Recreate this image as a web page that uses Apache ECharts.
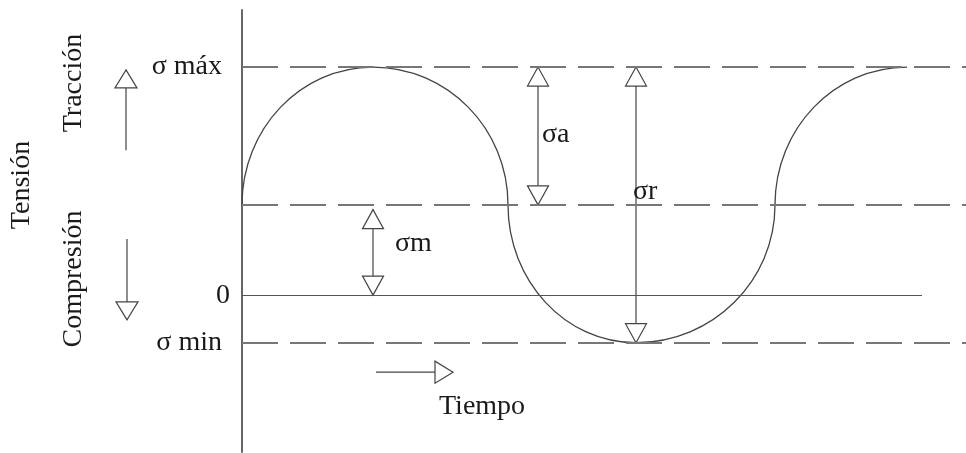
<!DOCTYPE html>
<html>
<head>
<meta charset="utf-8">
<style>
  html, body { margin: 0; background: #fff; }
  #chart { width: 966px; height: 453px; }
</style>
<script src="https://cdn.jsdelivr.net/npm/echarts@6/dist/echarts.min.js"></script>
</head>
<body>
<div id="chart"></div>
<script>
// stress levels (arbitrary units, 0 = no load)
const SIGMA_MAX = 4.8;
const SIGMA_M = 1.9;
const SIGMA_MIN = -1.0;
const ZERO_END = 6.8;

// curve key points [time, stress]: mean crossings and peaks, joined by quarter arcs
const curve = [
    [0, SIGMA_M],
    [1.31, SIGMA_MAX],
    [2.66, SIGMA_M],
    [3.94, SIGMA_MIN],
    [5.33, SIGMA_M],
    [6.65, SIGMA_MAX],
];

// double arrows: [time, from, to, label y]
const dims = [
    [1.31, 1.8, 0, 1.08],
    [2.96, SIGMA_MAX, SIGMA_M, 3.37],
    [3.94, SIGMA_MAX, SIGMA_MIN, 2.17],
];
const dim_names = ["σm", "σa", "σr"];
const dim_dx = [22, 4, -3];

// single direction arrows: [x1, y1, x2, y2]
const directions = [
    [-1.16, 3.05, -1.16, 4.74],
    [-1.15, 1.18, -1.15, -0.52],
    [1.34, -1.62, 2.11, -1.62],
];

const FAMILY = "'Liberation Serif', 'Times New Roman', serif";
const FONT = "28px " + FAMILY;
const INK = "#444";
const TEXT = "#1a1a1a";
const K = 0.5523; // quarter-ellipse bezier handle

function head(tip, from, w, h) {
    const dx = tip[0] - from[0], dy = tip[1] - from[1];
    const len = Math.hypot(dx, dy);
    const ux = dx / len, uy = dy / len;
    const bx = tip[0] - ux * h, by = tip[1] - uy * h;
    return {
        type: "polygon",
        shape: { points: [tip, [bx - uy * w / 2, by + ux * w / 2], [bx + uy * w / 2, by - ux * w / 2]] },
        style: { fill: "#fff", stroke: INK, lineWidth: 1.2 },
    };
}

function seg(a, b) {
    return { type: "line", shape: { x1: a[0], y1: a[1], x2: b[0], y2: b[1] }, style: { stroke: INK, lineWidth: 1.2 } };
}

const dashed = { type: [36, 12], color: "#777", width: 2 };
const level_label = (txt, dist) => ({
    show: true, position: "start", formatter: txt, distance: dist,
    color: TEXT, fontFamily: FAMILY, fontSize: 28,
});
const side_text = (txt, x, y, rot) => ({
    type: "text", x, y, rotation: rot,
    style: { text: txt, font: FONT, fill: TEXT, align: rot ? "center" : "left", verticalAlign: "middle" },
});

const chart = echarts.init(document.getElementById("chart"), null, { renderer: "canvas" });

chart.setOption({
    animation: false,
    grid: { left: 242, right: 0, top: 10, bottom: 1, outerBoundsMode: "none" },
    xAxis: { type: "value", min: 0, max: 7.24, show: false },
    yAxis: {
        type: "value", min: -3.3, max: 6,
        axisLine: { show: true, lineStyle: { color: "#666", width: 2 } },
        axisTick: { show: false }, axisLabel: { show: false }, splitLine: { show: false },
    },
    graphic: [
        side_text("Tensión", 22, 185, Math.PI / 2),
        side_text("Tracción", 74, 83, Math.PI / 2),
        side_text("Compresión", 74, 279, Math.PI / 2),
        side_text("Tiempo", 439, 407, 0),
    ],
    series: [
        {
            type: "custom",
            silent: true,
            data: curve,
            encode: { x: 0, y: 1 },
            renderItem(params, api) {
                const i = params.dataIndex;
                if (i === 0) return { type: "group", children: [] };
                const p = api.coord(curve[i - 1]);
                const q = api.coord(curve[i]);
                // even index = mean crossing (vertical tangent), odd = peak (horizontal tangent)
                const from_cross = (i - 1) % 2 === 0;
                const c1 = from_cross ? [p[0], p[1] + (q[1] - p[1]) * K] : [p[0] + (q[0] - p[0]) * K, p[1]];
                const c2 = from_cross ? [q[0] - (q[0] - p[0]) * K, q[1]] : [q[0], q[1] - (q[1] - p[1]) * K];
                return {
                    type: "bezierCurve",
                    shape: { x1: p[0], y1: p[1], cpx1: c1[0], cpy1: c1[1], cpx2: c2[0], cpy2: c2[1], x2: q[0], y2: q[1] },
                    style: { stroke: INK, lineWidth: 1.3, fill: null },
                };
            },
        },
        {
            type: "line",
            data: [],
            silent: true,
            markLine: {
                silent: true,
                symbol: "none",
                animation: false,
                data: [
                    { yAxis: SIGMA_MAX, lineStyle: dashed, label: level_label("σ máx", 20) },
                    { yAxis: SIGMA_M, lineStyle: dashed, label: { show: false } },
                    { yAxis: SIGMA_MIN, lineStyle: dashed, label: level_label("σ min", 20) },
                    [
                        { coord: [0, 0], lineStyle: { type: "solid", color: "#555", width: 1.2 }, label: level_label("0", 12) },
                        { coord: [ZERO_END, 0] },
                    ],
                ],
            },
        },
        {
            type: "custom",
            clip: false,
            silent: true,
            data: dims,
            encode: { x: 0, y: [1, 2] },
            renderItem(params, api) {
                const a = api.coord([api.value(0), api.value(1)]);
                const b = api.coord([api.value(0), api.value(2)]);
                const t = api.coord([api.value(0), api.value(3)]);
                const i = params.dataIndex;
                return {
                    type: "group",
                    children: [
                        seg(a, b),
                        head(a, b, 21, 19),
                        head(b, a, 21, 19),
                        { type: "text", x: t[0] + dim_dx[i], y: t[1], style: { text: dim_names[i], font: FONT, fill: TEXT, verticalAlign: "middle" } },
                    ],
                };
            },
        },
        {
            type: "custom",
            clip: false,
            silent: true,
            data: directions,
            encode: { x: [0, 2], y: [1, 3] },
            renderItem(params, api) {
                const a = api.coord([api.value(0), api.value(1)]);
                const b = api.coord([api.value(2), api.value(3)]);
                return { type: "group", children: [seg(a, b), head(b, a, 22, 18)] };
            },
        },
    ],
});
</script>
</body>
</html>
